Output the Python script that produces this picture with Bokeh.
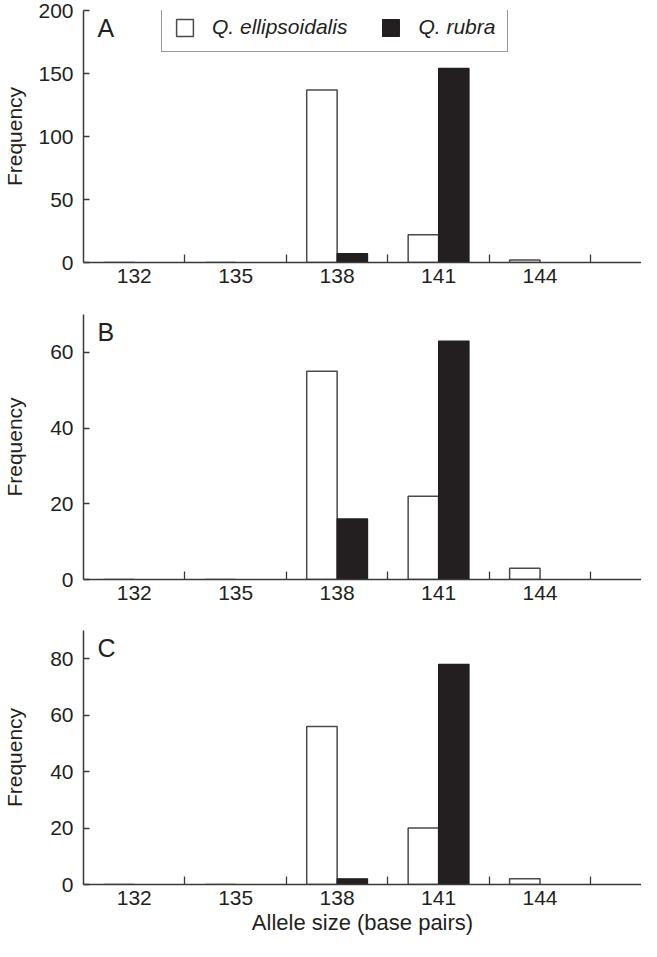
from bokeh.plotting import figure
from bokeh.models import Range1d, FixedTicker, Legend, LegendItem, Label, ColumnDataSource
from bokeh.layouts import column
from bokeh.embed import file_html
from bokeh.resources import INLINE

# ---- data ----
alleles = ["132", "135", "138", "141", "144"]
panel_letters = ["A", "B", "C"]
a_ellipsoidalis = [0, 0, 137, 22, 2]
a_rubra = [0, 0, 7, 154, 0]
b_ellipsoidalis = [0, 0, 55, 22, 3]
b_rubra = [0, 0, 16, 63, 0]
c_ellipsoidalis = [0, 0, 56, 20, 2]
c_rubra = [0, 0, 2, 78, 0]
y_max = [200, 70, 90]
y_ticks = [[0, 50, 100, 150, 200], [0, 20, 40, 60], [0, 20, 40, 60, 80]]
series_names = ["Q. ellipsoidalis", "Q. rubra"]

FONT = "Liberation Sans"
INK = "#231f20"
AXC = "#3a3a3a"

W = 641
LEFT = 78
frame_w = W - LEFT
n_slots = 5.5
slot_px = frame_w / n_slots

specs = [
    # height, top, frame_h, bottom, axis label standoff
    (300, 10, 252, 38, 9),
    (312, 14, 265, 33, 21),
    (329, 18, 254, 57, 21),
]
ell_all = [a_ellipsoidalis, b_ellipsoidalis, c_ellipsoidalis]
rub_all = [a_rubra, b_rubra, c_rubra]

figs = []
for i in range(3):
    h, top, fh, bot, lstand = specs[i]
    p = figure(width=W, height=h, output_backend="svg", toolbar_location=None,
               x_range=Range1d(0, n_slots), y_range=Range1d(0, y_max[i]),
               min_border_left=LEFT, min_border_right=0,
               min_border_top=top, min_border_bottom=bot)
    p.outline_line_color = None
    p.xgrid.visible = False
    p.ygrid.visible = False
    p.background_fill_color = "white"
    p.border_fill_color = "white"

    centers = [k + 0.5 for k in range(len(alleles))]
    src = ColumnDataSource(dict(
        xe=[c - 0.15 for c in centers], xr=[c + 0.15 for c in centers],
        ell=ell_all[i], rub=rub_all[i]))
    r_ell = p.vbar(x="xe", top="ell", bottom=0, width=0.3, source=src,
                   fill_color="white", line_color="#4a4a4a", line_width=1.5)
    r_rub = p.vbar(x="xr", top="rub", bottom=0, width=0.3, source=src,
                   fill_color=INK, line_color=INK, line_width=1.2)

    # x axis
    xa = p.xaxis[0]
    xa.ticker = FixedTicker(ticks=centers, minor_ticks=[1, 2, 3, 4, 5])
    xa.major_label_overrides = {c: lab for c, lab in zip(centers, alleles)}
    xa.major_tick_in = 0
    xa.major_tick_out = 0
    xa.minor_tick_in = 8
    xa.minor_tick_out = 0
    xa.minor_tick_line_color = AXC
    xa.minor_tick_line_width = 1.3
    xa.axis_line_color = AXC
    xa.axis_line_width = 1.5
    xa.major_label_text_font = FONT
    xa.major_label_text_font_size = "21px"
    xa.major_label_text_color = INK
    xa.major_label_standoff = 6
    if i == 2:
        xa.axis_label = "Allele size (base pairs)"
        xa.axis_label_text_font = FONT
        xa.axis_label_text_font_size = "22px"
        xa.axis_label_text_font_style = "normal"
        xa.axis_label_text_color = INK
        xa.axis_label_standoff = 2

    # y axis
    ya = p.yaxis[0]
    ya.ticker = FixedTicker(ticks=y_ticks[i], minor_ticks=[])
    ya.major_tick_in = 6
    ya.major_tick_out = 0
    ya.major_tick_line_color = AXC
    ya.major_tick_line_width = 1.3
    ya.minor_tick_line_color = None
    ya.axis_line_color = AXC
    ya.axis_line_width = 1.5
    ya.major_label_text_font = FONT
    ya.major_label_text_font_size = "21px"
    ya.major_label_text_color = INK
    ya.major_label_standoff = 10
    ya.axis_label = "Frequency"
    ya.axis_label_text_font = FONT
    ya.axis_label_text_font_size = "21px"
    ya.axis_label_text_font_style = "normal"
    ya.axis_label_text_color = INK
    ya.axis_label_standoff = lstand

    # panel letter
    per_px = y_max[i] / fh
    p.add_layout(Label(x=14 / slot_px, y=y_max[i] - 17.5 * per_px,
                       text=panel_letters[i], text_font=FONT,
                       text_font_size="25px", text_color=INK,
                       text_baseline="alphabetic", text_align="left"))

    if i == 0:
        legend = Legend(items=[LegendItem(label=series_names[0], renderers=[r_ell]),
                               LegendItem(label=series_names[1], renderers=[r_rub])],
                        orientation="horizontal", location=(78, fh - 42),
                        glyph_width=21, glyph_height=21, label_standoff=17,
                        spacing=33, padding=12, label_height=24,
                        label_text_font=FONT, label_text_font_size="21px",
                        label_text_font_style="italic", label_text_color=INK,
                        border_line_color="#333333", border_line_width=1.5,
                        background_fill_color="white", background_fill_alpha=1.0,
                        margin=0)
        p.add_layout(legend, "center")
    figs.append(p)

layout = column(*figs, spacing=0)
open("out.html", "w").write(file_html(layout, INLINE))
